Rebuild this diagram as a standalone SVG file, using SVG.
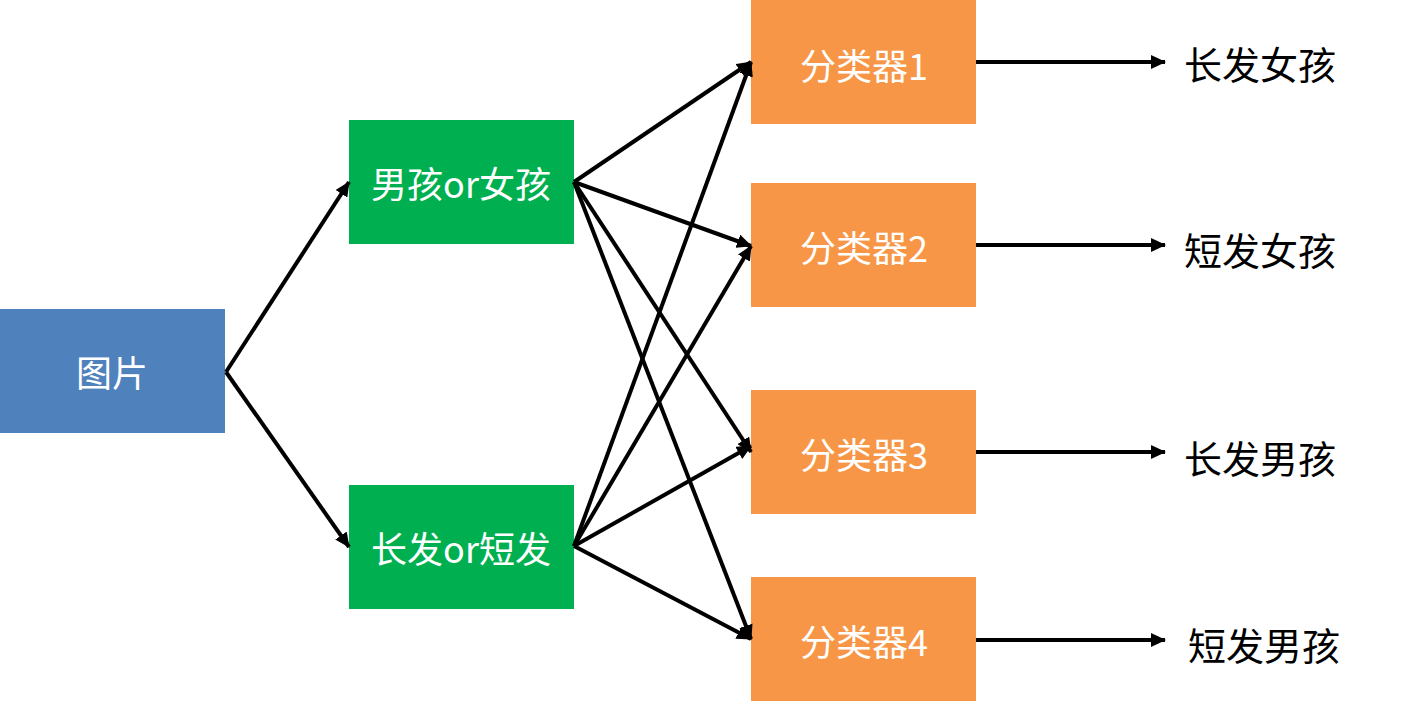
<svg xmlns="http://www.w3.org/2000/svg" width="1410" height="702" viewBox="0 0 1410 702">
<style>
.box-t{font-family:"Noto Sans CJK SC","Liberation Sans",sans-serif;font-size:36px;fill:#ffffff;text-anchor:middle;dominant-baseline:central}
.out-t{font-family:"Noto Sans CJK SC","Liberation Sans",sans-serif;font-size:38px;fill:#000000;dominant-baseline:central}
.c{stroke:#000;stroke-width:4;fill:none;marker-end:url(#ah)}
</style>
<defs>
<marker id="ah" markerUnits="userSpaceOnUse" markerWidth="16" markerHeight="14" refX="14" refY="7" orient="auto">
<path d="M0,0 L15,7 L0,14 Z" fill="#000"/>
</marker>
</defs>
<rect width="1410" height="702" fill="#fff"/>
<g id="n-img"><rect x="0" y="309" width="225" height="124" fill="#4F81BD"/><text class="box-t" x="112" y="371">图片</text></g>
<g id="n-gender"><rect x="349" y="120" width="225" height="124" fill="#00B050"/><text class="box-t" x="461" y="182">男孩or女孩</text></g>
<g id="n-hair"><rect x="349" y="485" width="225" height="124" fill="#00B050"/><text class="box-t" x="461" y="547">长发or短发</text></g>
<g id="n-c1"><rect x="751" y="0" width="225" height="124" fill="#F79646"/><text class="box-t" x="864" y="64">分类器1</text></g>
<g id="n-c2"><rect x="751" y="183" width="225" height="124" fill="#F79646"/><text class="box-t" x="864" y="246">分类器2</text></g>
<g id="n-c3"><rect x="751" y="390" width="225" height="124" fill="#F79646"/><text class="box-t" x="864" y="453">分类器3</text></g>
<g id="n-c4"><rect x="751" y="577" width="225" height="124" fill="#F79646"/><text class="box-t" x="864" y="640">分类器4</text></g>
<g id="o1"><text class="out-t" x="1184" y="62">长发女孩</text></g>
<g id="o2"><text class="out-t" x="1184" y="248">短发女孩</text></g>
<g id="o3"><text class="out-t" x="1184" y="456">长发男孩</text></g>
<g id="o4"><text class="out-t" x="1188" y="643">短发男孩</text></g>
<g id="connectors">
<path class="c" d="M226,372 L349,182"/>
<path class="c" d="M226,372 L349,547"/>
<path class="c" d="M574,182 L751,62"/>
<path class="c" d="M574,182 L751,246"/>
<path class="c" d="M574,182 L751,452"/>
<path class="c" d="M574,182 L751,639"/>
<path class="c" d="M574,546 L751,62"/>
<path class="c" d="M574,546 L751,246"/>
<path class="c" d="M574,546 L751,446"/>
<path class="c" d="M574,546 L751,639"/>
<path class="c" d="M976,62 L1165,62"/>
<path class="c" d="M976,245 L1165,245"/>
<path class="c" d="M976,452 L1165,452"/>
<path class="c" d="M976,640 L1165,640"/>
</g>
</svg>
